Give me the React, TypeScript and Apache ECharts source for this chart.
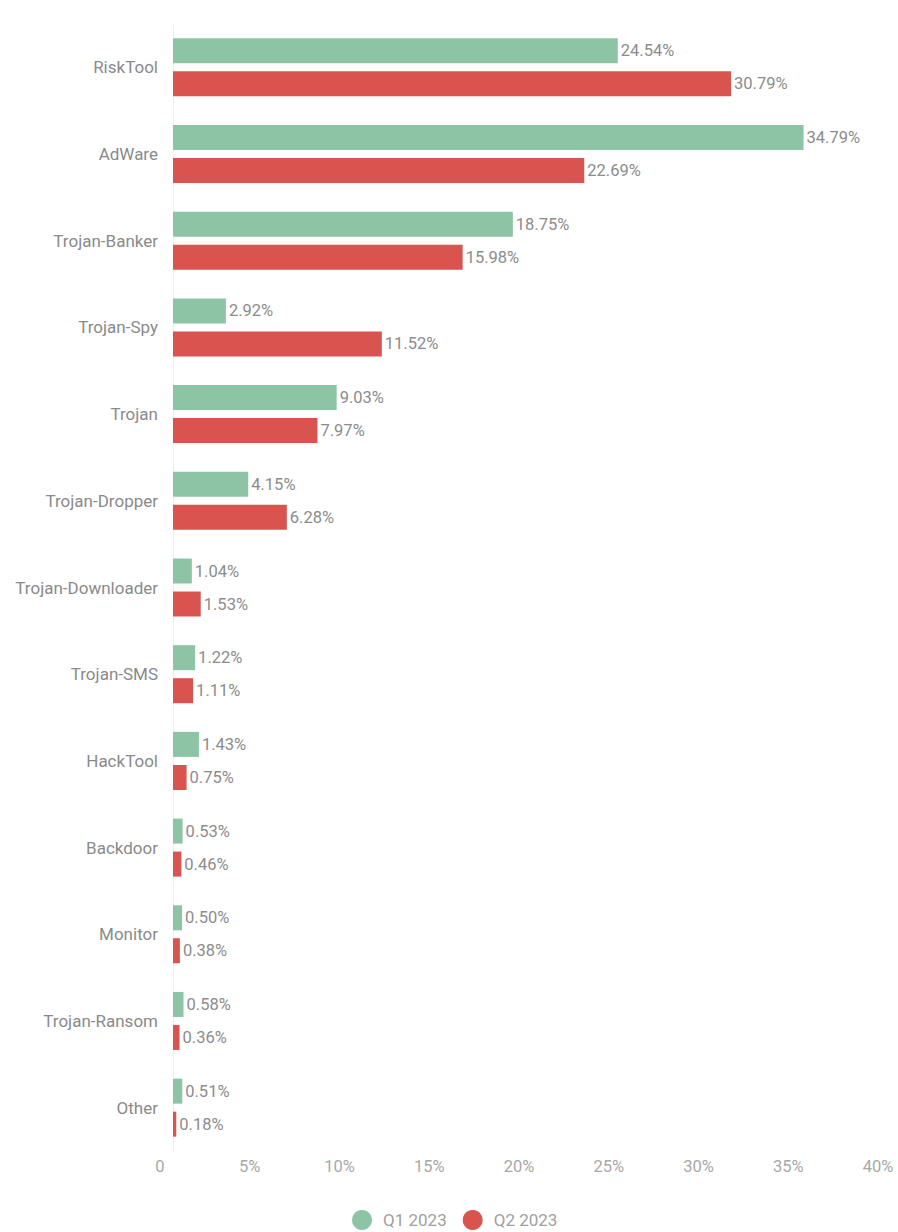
import React, { useEffect, useRef } from "react";
import * as echarts from "echarts";

const categories = [
  "RiskTool",
  "AdWare",
  "Trojan-Banker",
  "Trojan-Spy",
  "Trojan",
  "Trojan-Dropper",
  "Trojan-Downloader",
  "Trojan-SMS",
  "HackTool",
  "Backdoor",
  "Monitor",
  "Trojan-Ransom",
  "Other",
];
const q1 = [24.54, 34.79, 18.75, 2.92, 9.03, 4.15, 1.04, 1.22, 1.43, 0.53, 0.5, 0.58, 0.51];
const q2 = [30.79, 22.69, 15.98, 11.52, 7.97, 6.28, 1.53, 1.11, 0.75, 0.46, 0.38, 0.36, 0.18];
const seriesNames = ["Q1 2023", "Q2 2023"];
const tickMin = 0;
const tickMax = 40;
const tickStep = 5;

const FONT = "Roboto, 'Noto Sans', sans-serif";
const GREEN = "#8cc4a5";
const RED = "#d9534f";

export default function App() {
  const ref = useRef<HTMLDivElement>(null);
  useEffect(() => {
    if (!ref.current) return;
    const chart = echarts.init(ref.current, null, { renderer: "svg" });
    const labelStyle = {
      show: true,
      position: "right",
      distance: 3,
      color: "#8c8c8c",
      fontSize: 16.5,
      fontFamily: FONT,
      formatter: (p: any) => p.value.toFixed(2) + "%",
    };
    chart.setOption({
      animation: false,
      backgroundColor: "#ffffff",
      textStyle: { fontFamily: FONT },
      grid: [
        { left: 173, top: 24, width: 731, height: 1127, containLabel: false },
        { left: 160, top: 1140, width: 718, height: 10, containLabel: false },
      ],
      legend: {
        data: seriesNames,
        left: 347,
        top: 1205,
        padding: 5,
        icon: "circle",
        itemWidth: 20,
        itemHeight: 20,
        itemGap: 16,
        textStyle: {
          color: "#a0a0a0",
          fontSize: 17,
          fontFamily: FONT,
          padding: [0, 0, 0, 6],
        },
      },
      xAxis: [
        {
          type: "value",
          gridIndex: 0,
          min: tickMin,
          max: tickMax,
          interval: tickStep,
          axisLabel: { show: false },
          axisLine: { show: false },
          axisTick: { show: false },
          splitLine: { show: false },
        },
        {
          type: "value",
          gridIndex: 1,
          min: tickMin,
          max: tickMax,
          interval: tickStep,
          position: "bottom",
          axisLabel: {
            show: true,
            color: "#a8a8a8",
            fontSize: 16.5,
            fontFamily: FONT,
            margin: 8,
            formatter: (v: number) => (v === 0 ? "0" : v + "%"),
          },
          axisLine: { show: false },
          axisTick: { show: false },
          splitLine: { show: false },
        },
      ],
      yAxis: [
        {
          type: "category",
          gridIndex: 0,
          data: categories,
          inverse: true,
          axisLine: { show: true, lineStyle: { color: "#eeeeee", width: 1 } },
          axisTick: { show: false },
          axisLabel: {
            color: "#8a8a8a",
            fontSize: 17,
            fontFamily: FONT,
            margin: 15,
          },
        },
        {
          type: "value",
          gridIndex: 1,
          show: false,
        },
      ],
      series: [
        {
          name: seriesNames[0],
          type: "bar",
          xAxisIndex: 0,
          yAxisIndex: 0,
          data: q1,
          barWidth: 25,
          barGap: "32%",
          itemStyle: { color: GREEN },
          label: labelStyle,
        },
        {
          name: seriesNames[1],
          type: "bar",
          xAxisIndex: 0,
          yAxisIndex: 0,
          data: q2,
          barWidth: 25,
          barGap: "32%",
          itemStyle: { color: RED },
          label: labelStyle,
        },
      ],
    });
    return () => chart.dispose();
  }, []);
  return (
    <div
      ref={ref}
      style={{ position: "absolute", left: 0, top: 0, width: 898, height: 1232, background: "#fff" }}
    />
  );
}
